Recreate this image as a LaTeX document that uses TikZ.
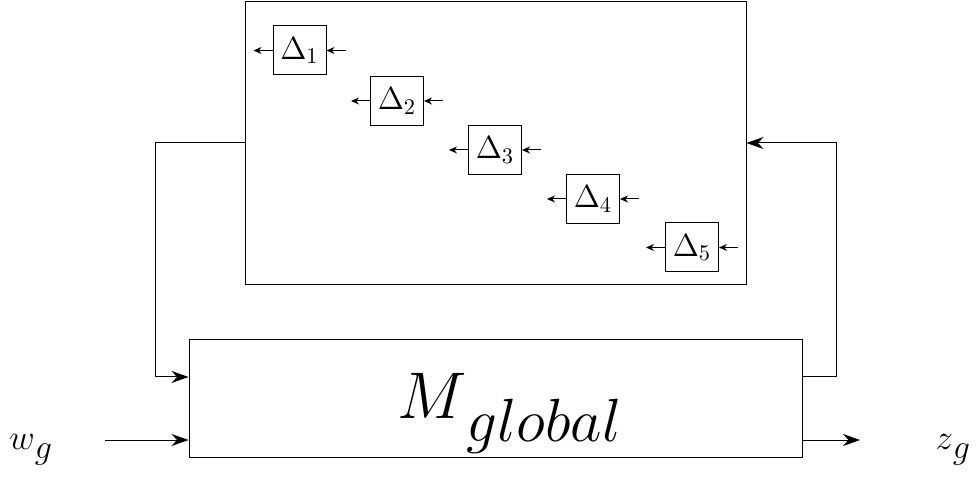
\RequirePackage{fix-cm}
\documentclass[tikz,border=0pt]{standalone}
\usetikzlibrary{arrows.meta}
\newcommand\labsub[5]{{\fontsize{#1}{#1}\selectfont$#2$}\raisebox{#5}{\fontsize{#3}{#3}\selectfont$#4$}}
\begin{document}
\begin{tikzpicture}[x=0.5pt,y=-0.5pt,line width=0.5pt,
  bigbox/.style={draw,inner sep=0pt},
  dbox/.style={draw,inner sep=0pt,minimum width=26.5pt,minimum height=24.5pt,font=\fontsize{16}{19}\selectfont},
  bigarrow/.style={-{Stealth[length=8.5pt,width=6pt]}},
  smallarrow/.style={-{Stealth[length=4pt,width=3.5pt]}},
  lbl/.style={inner sep=0pt,anchor=base west}]
\useasboundingbox (0,0) rectangle (979,491);
\node[bigbox,minimum width=250.5pt,minimum height=141.5pt] (D) at (495.5,143.5) {};
\node[bigbox,minimum width=306.5pt,minimum height=58.5pt] (M) at (495.5,398.5) {};
\node[lbl] (Mt) at (397,418) {\labsub{33}{M}{30.5}{global}{-11.5pt}};
\foreach \i/\x/\y in {1/299.5/50.5,2/397/101,3/495/150,4/593/199,5/692/247.5}{
  \node[dbox] (d\i) at (\x,\y) {$\Delta_{\i}$};
  \coordinate (dl\i) at (\x-46,\y);
  \coordinate (dr\i) at (\x+46,\y);
  \draw[smallarrow] (d\i.west) -- (dl\i);
  \draw[smallarrow] (dr\i) -- (d\i.east);
}
\coordinate (lc1) at (155,143);
\coordinate (lc2) at (155,377);
\coordinate (rc1) at (836,377);
\coordinate (rc2) at (836,143);
\draw[bigarrow] (D.west |- lc1) -- (lc1) -- (lc2) -- (M.west |- lc2);
\draw[bigarrow] (M.east |- rc1) -- (rc1) -- (rc2) -- (D.east |- rc2);
\node[lbl] (w) at (9,449) {\labsub{17.5}{w}{17}{g}{-4.5pt}};
\node[lbl] (z) at (935,449) {\labsub{17.5}{z}{17}{g}{-4.5pt}};
\coordinate (win) at (105,440);
\coordinate (zout) at (860,440);
\draw[bigarrow] (win) -- (M.west |- win);
\draw[bigarrow] (M.east |- zout) -- (zout);
\end{tikzpicture}
\end{document}
